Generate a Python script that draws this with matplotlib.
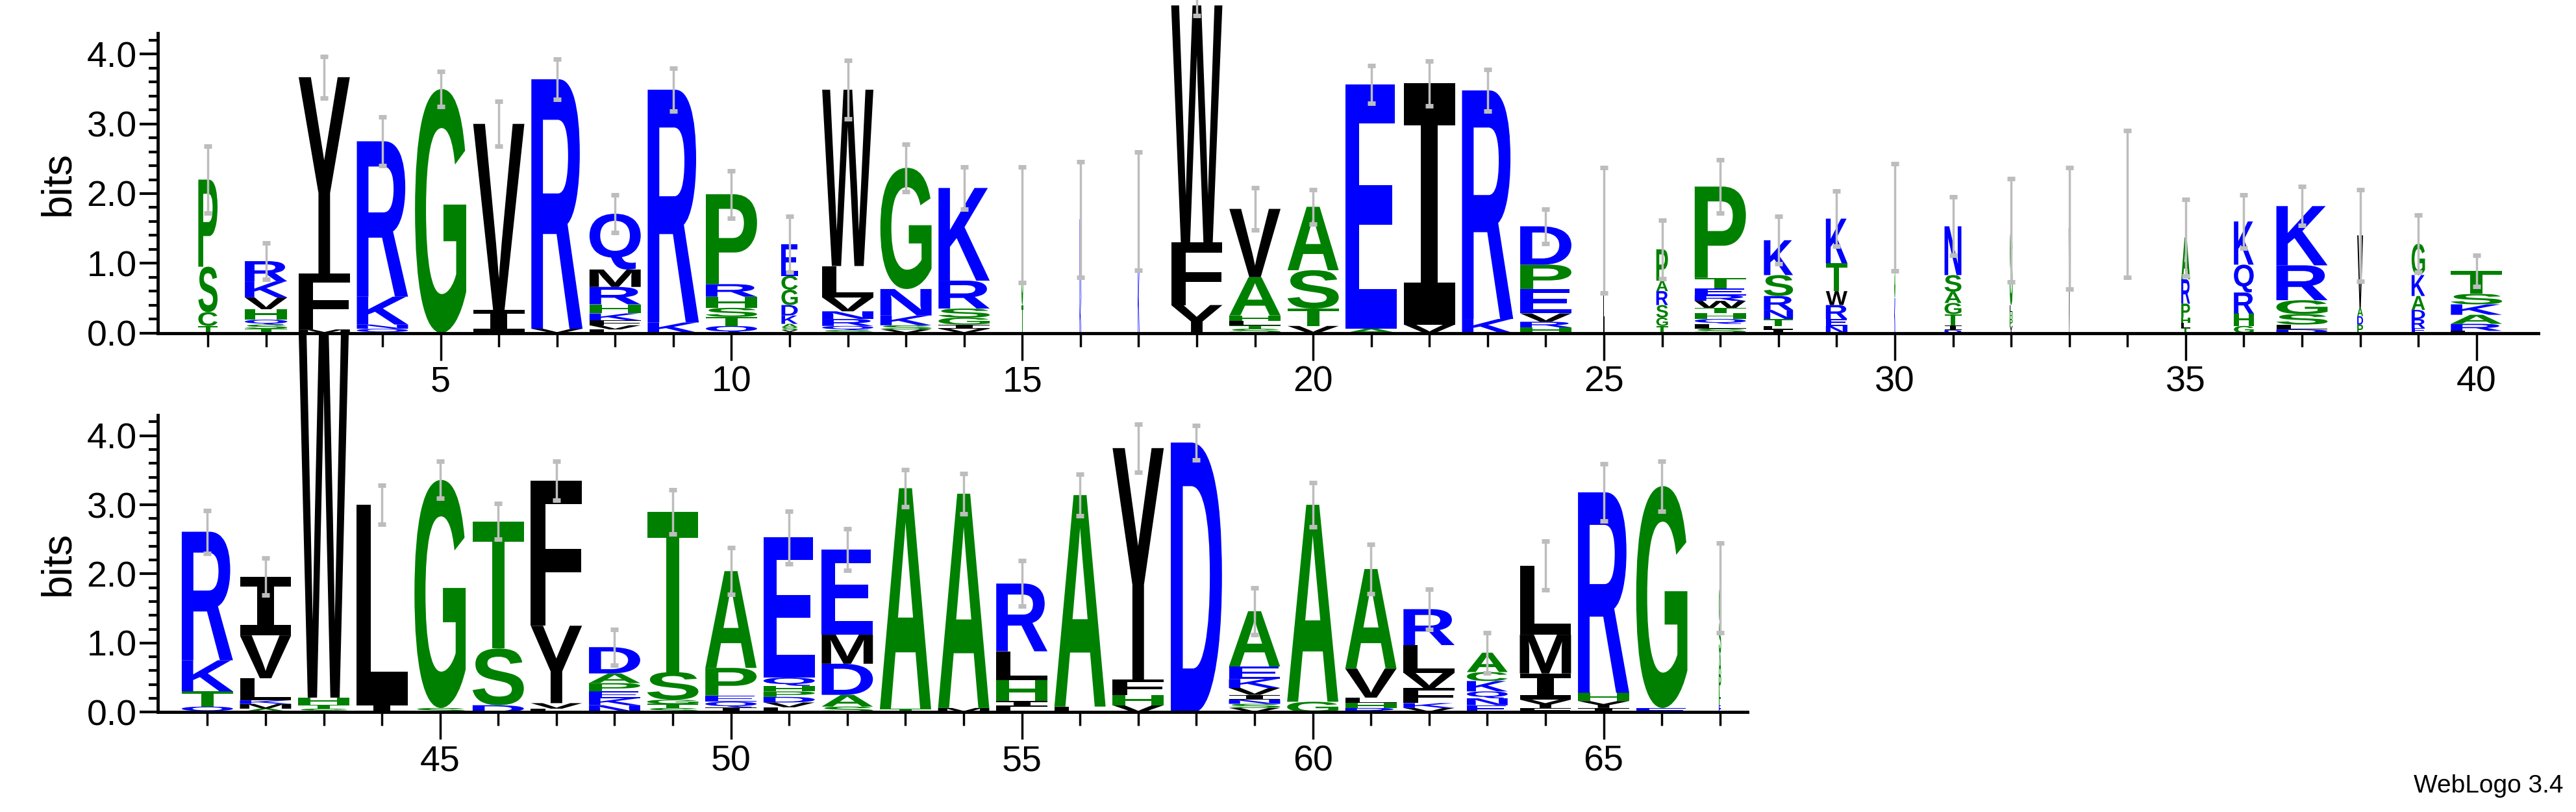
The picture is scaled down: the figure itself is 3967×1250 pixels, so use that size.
import matplotlib
matplotlib.use("Agg")
import matplotlib.pyplot as plt
from matplotlib.textpath import TextPath
from matplotlib.font_manager import FontProperties
from matplotlib.patches import PathPatch
from matplotlib.transforms import Affine2D

# ---------------- data ----------------
positions_top = list(range(1, 41))
stacks_top = [
    [("T", .1), ("C", .2), ("S", .65), ("P", 1.25)],
    [("T", .06), ("S", .06), ("Q", .07), ("H", .15), ("V", .17), ("K", .23), ("R", .29)],
    [("M", .05), ("F", .8), ("Y", 2.82)],
    [("Q", .06), ("N", .06), ("K", .4), ("R", 2.23)],
    [("G", 3.5)],
    [("I", .33), ("V", 2.67)],
    [("V", .06), ("R", 3.58)],
    [("L", .05), ("V", .06), ("F", .07), ("K", .1), ("H", .13), ("R", .25), ("M", .25), ("Q", .8)],
    [("K", .15), ("R", 3.34)],
    [("Q", .1), ("T", .13), ("S", .13), ("H", .16), ("R", .18), ("P", 1.29)],
    [("Y", .04), ("S", .04), ("A", .05), ("K", .12), ("D", .15), ("G", .22), ("C", .2), ("E", .45)],
    [("S", .04), ("Q", .06), ("R", .1), ("N", .11), ("V", .2), ("L", .45), ("W", 2.53)],
    [("V", .05), ("S", .06), ("K", .14), ("N", .38), ("G", 1.74)],
    [("V", .06), ("I", .06), ("G", .1), ("S", .13), ("R", .4), ("K", 1.33)],
    [("T", .4), ("S", 1.15)],
    [("K", .5), ("R", 1.13)],
    [("K", .9), ("S", .85)],
    [("Y", .4), ("F", .9), ("W", 3.4)],
    [("S", .06), ("T", .05), ("L", .06), ("H", .08), ("A", .55), ("V", .98)],
    [("V", .1), ("T", .25), ("S", .55), ("A", .91)],
    [("A", .06), ("E", 3.51)],
    [("V", .12), ("I", 3.46)],
    [("K", .2), ("R", 3.28)],
    [("H", .08), ("R", .08), ("V", .12), ("E", .35), ("P", .35), ("D", .55)],
    [("L", 1.47)],
    [("T", .1), ("G", .12), ("S", .18), ("R", .2), ("A", .15), ("P", .45)],
    [("S", .06), ("L", .07), ("Q", .07), ("H", .08), ("T", .08), ("W", .1), ("R", .08), ("E", .1), ("T", .15), ("P", 1.31)],
    [("I", .05), ("L", .05), ("T", .1), ("N", .13), ("R", .2), ("S", .3), ("K", .5)],
    [("N", .1), ("E", .1), ("R", .2), ("W", .2), ("T", .4), ("K", .64)],
    [("K", .5), ("S", 1.16)],
    [("D", .04), ("I", .07), ("T", .16), ("G", .16), ("A", .16), ("S", .24), ("N", .7)],
    [("Y", .1), ("P", .1), ("H", .1), ("L", .1), ("S", 1.07)],
    [("V", 1.5)],
    [("L", 1.85)],
    [("T", .07), ("L", .07), ("H", .08), ("P", .2), ("R", .35), ("A", .6)],
    [("G", .1), ("H", .18), ("R", .3), ("Q", .4), ("K", .62)],
    [("D", .05), ("L", .07), ("S", .15), ("G", .2), ("R", .5), ("K", .85)],
    [("P", .12), ("D", .12), ("A", .12), ("V", 1.04)],
    [("E", .07), ("R", .13), ("D", .13), ("A", .2), ("K", .3), ("G", .45)],
    [("L", .03), ("R", .1), ("A", .13), ("K", .15), ("S", .15), ("T", .33)],
]
widths_top = [.33, .73, .88, .88, .88, .88, .88, .88, .88, .88,
              .28, .88, .88, .88, .03, .03, .03, .88, .88, .88,
              .88, .88, .88, .88, .02, .2, .88, .5, .37, .02,
              .29, .05, .02, 0.0, .15, .34, .88, .1, .23, .88]
errors_top = [.48, .26, .3, .35, .25, .32, .29, .27, .31, .34,
              .4, .42, .34, .3, .83, .83, .85, .15, .3, .25,
              .27, .32, .3, .25, .9, .42, .38, .34, .4, .77,
              .42, .74, .87, 1.05, .55, .38, .28, .66, .41, .22]

positions_bot = list(range(41, 68))
stacks_bot = [
    [("Q", .08), ("T", .22), ("K", .45), ("R", 1.86)],
    [("A", .05), ("M", .07), ("K", .05), ("L", .32), ("V", .62), ("I", .85)],
    [("S", .05), ("T", .06), ("H", .1), ("W", 5.6)],
    [("I", .12), ("L", 2.88)],
    [("S", .06), ("G", 3.3)],
    [("D", .1), ("S", .82), ("T", 1.84)],
    [("L", .05), ("V", .08), ("Y", 1.12), ("F", 2.1)],
    [("N", .1), ("K", .1), ("E", .1), ("P", .12), ("A", .14), ("D", .38)],
    [("S", .06), ("T", .06), ("G", .06), ("S", .4), ("T", 2.32)],
    [("I", .07), ("Q", .08), ("E", .09), ("P", .4), ("A", 1.4)],
    [("L", .07), ("V", .07), ("D", .08), ("P", .08), ("H", .08), ("Q", .12), ("E", 2.03)],
    [("S", .08), ("A", .17), ("D", .45), ("M", .42), ("E", 1.23)],
    [("T", .05), ("A", 3.19)],
    [("M", .06), ("A", 3.1)],
    [("L", .08), ("I", .08), ("H", .3), ("L", .42), ("R", .98)],
    [("L", .08), ("A", 3.06)],
    [("V", .1), ("H", .15), ("F", .22), ("Y", 3.35)],
    [("D", 3.9)],
    [("V", .06), ("S", .06), ("N", .06), ("I", .07), ("V", .1), ("K", .13), ("E", .18), ("A", .8)],
    [("G", .15), ("A", 2.85)],
    [("R", .06), ("H", .07), ("L", .08), ("V", .42), ("A", 1.44)],
    [("V", .06), ("K", .07), ("F", .22), ("V", .22), ("L", .4), ("R", .52)],
    [("E", .1), ("N", .1), ("Q", .1), ("K", .15), ("C", .13), ("A", .28)],
    [("F", .06), ("Y", .12), ("I", .38), ("M", .56), ("L", 1.0)],
    [("I", .06), ("Y", .1), ("H", .12), ("R", 2.9)],
    [("E", .06), ("G", 3.21)],
    [("E", .1), ("H", .2), ("P", .25), ("A", .3), ("S", .45), ("G", .5)],
]
widths_bot = [.88, .88, .88, .88, .88, .88, .88, .88, .88, .88,
              .88, .88, .88, .88, .88, .88, .88, .88, .88, .88,
              .88, .88, .7, .88, .88, .88, .04]
errors_bot = [.31, .27, 0.0, .28, .27, .26, .28, .26, .32, .34,
              .38, .3, .27, .29, .33, .3, .35, .25, .34, .32,
              .36, .29, .29, .35, .41, .36, .65]

GREEN, BLUE, BLACK = "#008000", "#0000ff", "#000000"
color_of = {}
for c in "GSTAPHC":
    color_of[c] = GREEN
for c in "RKQDEN":
    color_of[c] = BLUE
for c in "YFWVILM":
    color_of[c] = BLACK

fp = FontProperties(family="Liberation Sans", weight="bold")
fp_i = FontProperties(family="DejaVu Sans Mono", weight="bold")
_cache = {}


def glyph(ch):
    if ch not in _cache:
        p = TextPath((0, 0), ch, size=1, prop=fp_i if ch == "I" else fp)
        _cache[ch] = (p, p.get_extents())
    return _cache[ch]


def draw_logo(ax, positions, stacks, widths, errors):
    tops = []
    for x, stack, w in zip(positions, stacks, widths):
        y = 0.0
        for ch, h in stack:
            if w > 0:
                p, bb = glyph(ch)
                tr = (Affine2D().translate(-bb.x0, -bb.y0)
                      .scale(w / bb.width, h / bb.height)
                      .translate(x - w / 2, y))
                ax.add_patch(PathPatch(tr.transform_path(p), facecolor=color_of[ch],
                                       edgecolor="none", transform=ax.transData,
                                       clip_on=False, zorder=2))
            y += h
        tops.append(y)
    xs = [x for x, e in zip(positions, errors) if e > 0]
    ys = [t for t, e in zip(tops, errors) if e > 0]
    es = [e for e in errors if e > 0]
    ax.errorbar(xs, ys, yerr=es, fmt="none", ecolor="#bdbdbd", elinewidth=2.5,
                capsize=4, capthick=5, zorder=3, clip_on=False)


def style(ax, xmin, xmax, first, last):
    ax.set_xlim(xmin, xmax)
    ax.set_ylim(0, 4.3)
    for s in ("top", "right"):
        ax.spines[s].set_visible(False)
    for s in ("left", "bottom"):
        ax.spines[s].set_linewidth(3.5)
    ax.set_yticks([0, 1, 2, 3, 4])
    ax.set_yticklabels(["0.0", "1.0", "2.0", "3.0", "4.0"])
    ax.set_yticks([v / 5 for v in range(0, 22)], minor=True)
    maj = [p for p in range(first, last + 1) if p % 5 == 0]
    ax.set_xticks(maj)
    ax.set_xticklabels([str(p) for p in maj])
    ax.set_xticks(list(range(first, last + 1)), minor=True)
    ax.tick_params(axis="y", which="major", length=20, width=3, labelsize=40, direction="out")
    ax.tick_params(axis="y", which="minor", length=10, width=3, direction="out")
    ax.tick_params(axis="x", which="major", length=30, width=2.5, labelsize=40, direction="out", pad=6)
    ax.tick_params(axis="x", which="minor", length=15, width=2.5, direction="out")
    for lab in ax.get_xticklabels() + ax.get_yticklabels():
        lab.set_family("Liberation Sans")
    ax.set_ylabel("bits", fontsize=46, family="Liberation Sans", labelpad=10)
    ax.set_facecolor("white")


fig = plt.figure(figsize=(39.67, 12.5), dpi=100)
ax_b = fig.add_axes([0.0613, 0.123, 0.617, 0.366])
ax_t = fig.add_axes([0.0613, 0.590, 0.924, 0.369])
ax_b.set_zorder(1)
ax_t.set_zorder(2)

draw_logo(ax_b, positions_bot, stacks_bot, widths_bot, errors_bot)
draw_logo(ax_t, positions_top, stacks_top, widths_top, errors_top)
style(ax_b, 40.15, 67.47, 41, 67)
style(ax_t, 0.14, 41.06, 1, 40)

fig.text(0.995, 0.018, "WebLogo 3.4", ha="right", va="bottom", fontsize=28, family="Liberation Sans")
fig.savefig("out.png", dpi=100, facecolor="white")
